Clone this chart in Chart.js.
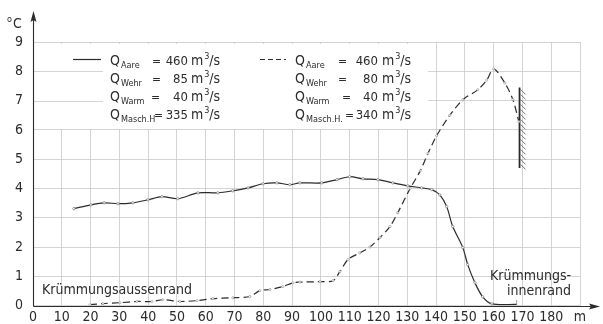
<!DOCTYPE html>
<html>
<head>
<meta charset="utf-8">
<script src="https://cdn.jsdelivr.net/npm/chart.js@4.4.1/dist/chart.umd.min.js"></script>
<style>
  body { margin: 0; background: #fff; }
</style>
</head>
<body>
<canvas id="myChart" width="603" height="324"></canvas>
<script>
'use strict';

// distance across the river (m) and water temperature rise (°C)
var solidX = [14.2, 20.1, 24.7, 29.5, 34.7, 39.9, 44.8, 50.3, 57.3, 64.2, 69.4, 74.7, 79.9, 84.7, 89.2, 92.7,
              100.3, 105.6, 110, 114.6, 119.8, 125, 130.2, 135, 138.5, 141.3, 143.7, 145.8, 149.3, 151,
              153.5, 156.2, 159.4, 168];
var solidT = [3.31, 3.44, 3.51, 3.48, 3.51, 3.61, 3.72, 3.65, 3.85, 3.85, 3.92, 4.02, 4.16, 4.19, 4.13, 4.19,
              4.19, 4.3, 4.4, 4.33, 4.3, 4.19, 4.09, 4.02, 3.96, 3.78, 3.38, 2.7, 1.98, 1.4,
              0.78, 0.3, 0.06, 0.04];

var dashX = [19.8, 24.3, 30.2, 36.1, 41.3, 45.1, 51, 57, 62.5, 69.4, 75.3, 78.8, 82.3, 86.8, 90.3, 92.7,
             99.7, 104.2, 106.6, 109.4, 113.5, 117, 120.5, 124, 126.7, 131, 134.5, 137.2, 140.2, 144.8,
             149.3, 154.5, 157.6, 160, 163.9, 166.7, 168.75];
var dashT = [0.03, 0.07, 0.1, 0.14, 0.14, 0.2, 0.14, 0.17, 0.24, 0.27, 0.31, 0.51, 0.55, 0.65, 0.78, 0.8,
             0.82, 0.85, 1.16, 1.57, 1.8, 2.0, 2.32, 2.7, 3.17, 4.0, 4.6, 5.2, 5.8, 6.5,
             7.03, 7.37, 7.7, 8.08, 7.6, 7.03, 6.28];

// hatched bank at the inner edge
var wallX = [169, 169];
var wallT = [4.7, 7.45];

var xTicks = [0, 10, 20, 30, 40, 50, 60, 70, 80, 90, 100, 110, 120, 130, 140, 150, 160, 170, 180, 190];
var yTicks = [0, 1, 2, 3, 4, 5, 6, 7, 8, 9];

// legend rows: subscript, value
var legendSolid = [['Aare', '460'], ['Wehr', '85'], ['Warm', '40'], ['Masch.H', '335']];
var legendDash = [['Aare', '460'], ['Wehr', '80'], ['Warm', '40'], ['Masch.H.', '340']];

var FONT = '"DejaVu Sans Condensed", "DejaVu Sans", sans-serif';
var INK = '#2b2b2b';
var GRID = '#c9c9c9';

function pts(xs, ys) {
  return xs.map(function (x, i) { return { x: x, y: ys[i] }; });
}

function font(size) {
  return size + 'px ' + FONT;
}

// one "Q_sub = value m3/s" line
function qRow(c, x, y, sub, eqX, num, numRight, unitX) {
  c.textAlign = 'left';
  c.font = font(14);
  c.fillText('Q', x, y);
  c.font = font(9);
  c.fillText(sub, x + 11, y + 3);
  c.font = font(12);
  c.fillText('=', eqX, y);
  c.font = font(13);
  c.textAlign = 'right';
  c.fillText(num, numRight, y);
  c.textAlign = 'left';
  c.font = font(14);
  c.fillText('m', unitX, y);
  var mw = c.measureText('m').width;
  c.font = font(9);
  c.fillText('3', unitX + mw + 1, y - 6);
  c.font = font(14);
  c.fillText('/s', unitX + mw + 6, y);
}

var decor = {
  id: 'decor',
  beforeDatasetsDraw: function (chart) {
    var c = chart.ctx, ys = chart.scales.y;
    c.save();
    // legend sits on a blank patch of the grid
    c.fillStyle = '#fff';
    c.fillRect(34, 44, 394, 85);
    c.strokeStyle = GRID;
    c.lineWidth = 0.8;
    [7, 8].forEach(function (v) {
      var y = Math.round(ys.getPixelForValue(v)) + 0.5;
      c.beginPath();
      c.moveTo(34, y);
      c.lineTo(103, y);
      c.stroke();
    });
    c.restore();
  },
  afterDatasetsDraw: function (chart) {
    var c = chart.ctx, xs = chart.scales.x, ys = chart.scales.y;
    var wx = xs.getPixelForValue(wallX[0]);
    var y0 = ys.getPixelForValue(wallT[0]), y1 = ys.getPixelForValue(wallT[1]);
    c.save();
    c.strokeStyle = '#555';
    c.lineWidth = 0.8;
    for (var y = y1 + 2; y < y0 - 1; y += 5) {
      c.beginPath();
      c.moveTo(wx + 1, y);
      c.lineTo(wx + 6, y + 5);
      c.stroke();
    }
    c.restore();
  },
  afterDraw: function (chart) {
    var c = chart.ctx, xs = chart.scales.x, ys = chart.scales.y;
    var ox = Math.round(xs.getPixelForValue(0)) + 0.5;
    var oy = Math.round(ys.getPixelForValue(0)) + 0.5;
    c.save();
    c.strokeStyle = INK;
    c.fillStyle = INK;
    c.lineWidth = 1.1;
    // axes with arrow heads
    c.beginPath();
    c.moveTo(ox, oy);
    c.lineTo(596, oy);
    c.moveTo(ox, oy);
    c.lineTo(ox, 15);
    c.stroke();
    c.beginPath();
    c.moveTo(600, oy);
    c.lineTo(589, oy - 3);
    c.lineTo(591, oy);
    c.lineTo(589, oy + 3);
    c.closePath();
    c.fill();
    c.beginPath();
    c.moveTo(ox, 11);
    c.lineTo(ox - 3, 22);
    c.lineTo(ox, 20);
    c.lineTo(ox + 3, 22);
    c.closePath();
    c.fill();

    // unit of the y axis
    c.font = font(9);
    c.fillText('o', 7, 22);
    c.font = font(14);
    c.fillText('C', 13, 28);

    // legend
    c.lineWidth = 1.2;
    c.beginPath();
    c.moveTo(73, 59.5);
    c.lineTo(101, 59.5);
    c.stroke();
    c.setLineDash([5, 3]);
    c.beginPath();
    c.moveTo(260, 59.5);
    c.lineTo(286, 59.5);
    c.stroke();
    c.setLineDash([]);
    var rows = [65, 83, 101, 119];
    var eqL = [152, 152, 151, 154], eqR = [338, 338, 342, 345];
    legendSolid.forEach(function (r, i) {
      qRow(c, 110, rows[i], r[0], eqL[i], r[1], 188, 191);
    });
    legendDash.forEach(function (r, i) {
      qRow(c, 295, rows[i], r[0], eqR[i], r[1], 378, 382);
    });

    // river bank notes
    c.font = font(14);
    c.textAlign = 'left';
    c.fillText('Krümmungsaussenrand', 42, 294);
    c.textAlign = 'right';
    c.fillText('Krümmungs-', 571, 280);
    c.fillText('innenrand', 571, 295);
    c.restore();
  }
};

var lastSolid = solidX.length - 1;

var ctx = document.getElementById('myChart').getContext('2d');
var myChart = new Chart(ctx, {
  type: 'line',
  data: {
    datasets: [{
      data: pts(solidX, solidT),
      borderColor: INK,
      borderWidth: 1.2,
      tension: 0.3,
      pointRadius: function (p) { return p.dataIndex === lastSolid ? 4.5 : 1.2; },
      pointStyle: function (p) { return p.dataIndex === lastSolid ? 'line' : 'circle'; },
      pointRotation: function (p) { return p.dataIndex === lastSolid ? 90 : 0; },
      pointBackgroundColor: '#fff',
      pointBorderColor: '#777',
      pointBorderWidth: 0.7
    }, {
      data: pts(dashX, dashT),
      borderColor: INK,
      borderWidth: 1.2,
      borderDash: [7, 4],
      tension: 0.3,
      pointRadius: 1.1,
      pointBackgroundColor: '#fff',
      pointBorderColor: '#888',
      pointBorderWidth: 0.6
    }, {
      data: pts(wallX, wallT),
      borderColor: INK,
      borderWidth: 1.8,
      pointRadius: 0
    }]
  },
  options: {
    responsive: false,
    animation: false,
    devicePixelRatio: 1,
    layout: { padding: { top: 42, right: 23, left: 0, bottom: 0 } },
    plugins: { legend: { display: false }, tooltip: { enabled: false } },
    scales: {
      x: {
        type: 'linear',
        min: 0,
        max: 190,
        afterBuildTicks: function (s) { s.ticks = xTicks.map(function (v) { return { value: v }; }); },
        afterFit: function (s) { s.height = 18; },
        ticks: {
          autoSkip: false,
          maxRotation: 0,
          padding: 3,
          color: INK,
          font: { family: FONT, size: 14 },
          callback: function (v) { return v === 190 ? 'm' : v; }
        },
        grid: { color: GRID, lineWidth: 0.8, drawTicks: false },
        border: { display: false }
      },
      y: {
        min: 0,
        max: 9,
        afterBuildTicks: function (s) { s.ticks = yTicks.map(function (v) { return { value: v }; }); },
        afterFit: function (s) { s.width = 33; },
        ticks: {
          padding: 10,
          color: INK,
          font: { family: FONT, size: 14 }
        },
        grid: { color: GRID, lineWidth: 0.8, drawTicks: false },
        border: { display: false }
      }
    }
  },
  plugins: [decor]
});
</script>
</body>
</html>
